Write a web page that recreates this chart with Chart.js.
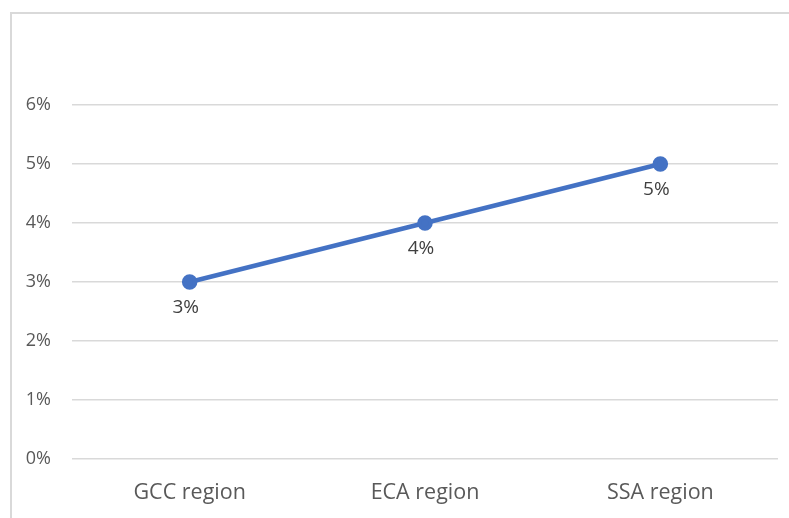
<!DOCTYPE html>
<html>
<head>
<meta charset="utf-8">
<script src="https://cdn.jsdelivr.net/npm/chart.js@4"></script>
<style>
  body { margin: 0; background: #fff; }
  #frame {
    position: absolute; left: 10px; top: 12px;
    width: 800px; height: 520px;
    border: 2px solid #d9d9d9;
  }
  #wrap { position: absolute; left: 0; top: 0; width: 789px; height: 518px; }
</style>
</head>
<body>
<div id="frame"></div>
<div id="wrap"><canvas id="growthChart"></canvas></div>
<script>
var regions = ["GCC region", "ECA region", "SSA region"];
var growthValues = [3, 4, 5];
var yTicks = [0, 1, 2, 3, 4, 5, 6];

// value labels under each point
var pointLabels = {
	id: "pointLabels",
	afterDatasetsDraw: function (chart) {
		var ctx = chart.ctx;
		var meta = chart.getDatasetMeta(0);
		ctx.save();
		ctx.font = "19px 'Open Sans'";
		ctx.fillStyle = "#404040";
		ctx.textAlign = "center";
		ctx.textBaseline = "middle";
		meta.data.forEach(function (pt, i) {
			ctx.fillText(growthValues[i] + "%", pt.x - 4, pt.y + 26);
		});
		ctx.restore();
	}
};

var growthChart = new Chart(document.getElementById("growthChart"), {
	type: "line",
	data: {
		labels: regions,
		datasets: [
			{
				data: growthValues,
				borderColor: "#4472c4",
				backgroundColor: "#4472c4",
				borderWidth: 4.5,
				pointRadius: 5.5,
				pointHoverRadius: 5.5,
				fill: false,
				tension: 0
			}
		]
	},
	options: {
		responsive: true,
		maintainAspectRatio: false,
		animation: false,
		layout: { padding: { top: 105, right: 11, bottom: 0, left: 0 } },
		plugins: {
			legend: { display: false },
			tooltip: { enabled: false }
		},
		scales: {
			x: {
				offset: true,
				grid: { display: false, drawTicks: false },
				border: { display: false },
				ticks: { color: "#595959", font: { family: "'Open Sans'", size: 21.5 }, padding: 21 },
				afterFit: function (scale) { scale.height = 59; }
			},
			y: {
				min: 0,
				max: 6,
				afterBuildTicks: function (scale) {
					scale.ticks = yTicks.map(function (v) { return { value: v }; });
				},
				grid: { color: "#d9d9d9", lineWidth: 1.5, drawTicks: false },
				border: { display: false },
				ticks: {
					color: "#595959",
					font: { family: "'Open Sans'", size: 18 },
					padding: 21,
					callback: function (v) { return v + "%"; }
				},
				afterFit: function (scale) { scale.width = 72; }
			}
		}
	},
	plugins: [pointLabels]
});
</script>
</body>
</html>
